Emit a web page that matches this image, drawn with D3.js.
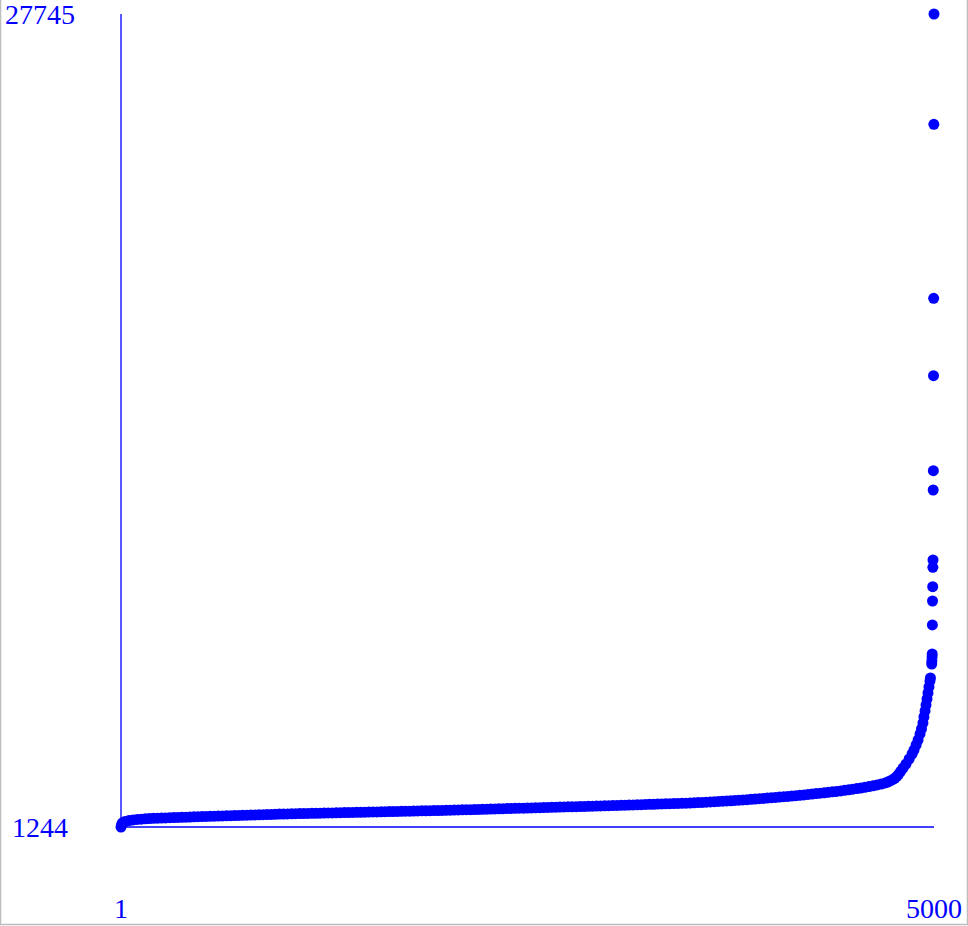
<!DOCTYPE html>
<html>
<head>
<meta charset="utf-8">
<script src="https://cdn.jsdelivr.net/npm/d3@7"></script>
<style>
  html, body { margin: 0; padding: 0; background: #fff; }
  svg { display: block; }
  text { font-family: "Liberation Serif", "DejaVu Serif", serif; fill: #0000ff; }
</style>
</head>
<body>
<svg id="chart" width="968" height="926"></svg>
<script>
// Rank (position in the sorted list) of each sampled point
const ranks = [
  1,5,10,25,50,75,100,125,150,175,200,
  225,250,275,300,325,350,375,400,425,450,475,500,
  525,550,575,600,625,650,675,700,725,750,775,800,825,850,875,900,925,950,975,1000,
  1025,1050,1075,1100,1125,1150,1175,1200,1225,1250,1275,1300,1325,1350,1375,1400,1425,1450,1475,1500,
  1525,1550,1575,1600,1625,1650,1675,1700,1725,1750,1775,1800,1825,1850,1875,1900,1925,1950,1975,2000,
  2025,2050,2075,2100,2125,2150,2175,2200,2225,2250,2275,2300,2325,2350,2375,2400,2425,2450,2475,2500,
  2525,2550,2575,2600,2625,2650,2675,2700,2725,2750,2775,2800,2825,2850,2875,2900,2925,2950,2975,3000,
  3025,3050,3075,3100,3125,3150,3175,3200,3225,3250,3275,3300,3325,3350,3375,3400,3425,3450,3475,3500,
  3525,3550,3575,3600,3625,3650,3675,3700,3725,3750,3775,3800,3825,3850,3875,3900,3925,3950,3975,4000,4025,4050,
  4075,4100,4125,4150,4175,4200,4225,4250,4275,4300,4325,4350,4375,4400,4425,4450,4475,4500,
  4525,4550,4575,4600,4625,4650,4675,4700,4715,4730,4745,4758,4770,4782,4795,
  4810,4828,4847,4865,4877,4890,4902,4914,4923,4932,4938,4945,4951,4957,4963,4969,4975,4978,
  4986,4987,4988,4989,
  4990,4991,4992,4993,4994,4995,4996,4997,4998,4999,5000
];
const values = [
  1244,1330,1380,1420,1455,1475,1490,1500,1510,1518,1527,
  1532,1537,1541,1546,1551,1556,1561,1565,1570,1575,1580,1585,
  1589,1593,1597,1601,1605,1610,1614,1618,1622,1626,1630,1635,1639,1643,1647,1651,1655,1660,1664,1668,
  1671,1674,1677,1680,1683,1686,1689,1692,1695,1698,1701,1704,1707,1710,1713,1716,1719,1722,1725,1728,
  1731,1734,1737,1740,1743,1746,1749,1752,1755,1758,1761,1764,1767,1770,1773,1776,1779,1782,1785,1788,
  1792,1795,1799,1803,1807,1810,1814,1818,1822,1826,1829,1833,1837,1841,1844,1848,1852,1856,1859,1863,
  1867,1871,1874,1878,1882,1886,1889,1893,1897,1901,1904,1908,1912,1916,1919,1923,1927,1931,1934,1938,
  1942,1947,1951,1956,1960,1964,1969,1973,1978,1982,1986,1991,1995,2000,2004,2008,2013,2017,2022,2026,
  2032,2039,2046,2053,2060,2068,2076,2084,2092,2100,2109,2118,2127,2136,2146,2156,2166,2176,2187,2198,2209,2220,
  2231,2242,2254,2266,2278,2291,2304,2318,2332,2346,2360,2375,2390,2405,2421,2438,2456,2475,
  2495,2515,2538,2562,2588,2616,2646,2680,2710,2745,2785,2830,2885,2960,3060,
  3167,3298,3461,3624,3754,3917,4080,4276,4439,4634,4830,5026,5221,5417,5612,5808,6003,6101,
  6557,6655,6785,6883,
  7829,8611,9077,9709,9947,12229,12858,15955,18478,24150,27745
];
const xTickLabels = ["1", "5000"];
const yTickLabels = ["1244", "27745"];

const points = ranks.map((r, i) => ({ rank: r, value: values[i] }));

const svg = d3.select("#chart");
const blue = "#0000ff";

const x = d3.scaleLinear().domain([1, 5000]).range([121, 934]);
const y = d3.scaleLinear().domain([1244, 27745]).range([827, 14]);

// frame border (light gray)
svg.append("path")
  .attr("d", "M0.5,0 V924.5 H967.5 V0")
  .attr("fill", "none")
  .attr("stroke", "#bdbdbd")
  .attr("stroke-width", 1.5);

// axes lines
svg.append("line")
  .attr("x1", x(1)).attr("x2", x(1))
  .attr("y1", y(27745)).attr("y2", y(1244))
  .attr("stroke", blue).attr("stroke-width", 1.3);
svg.append("line")
  .attr("x1", x(1)).attr("x2", x(5000))
  .attr("y1", y(1244)).attr("y2", y(1244))
  .attr("stroke", blue).attr("stroke-width", 1.3);

// dots
svg.append("g")
  .selectAll("circle")
  .data(points)
  .join("circle")
  .attr("cx", d => x(d.rank))
  .attr("cy", d => y(d.value))
  .attr("r", 5.5)
  .attr("fill", blue);

// y labels
svg.append("g")
  .selectAll("text")
  .data(yTickLabels)
  .join("text")
  .attr("x", 40)
  .attr("y", d => y(+d))
  .attr("dy", "0.36em")
  .attr("text-anchor", "middle")
  .attr("font-size", 28)
  .text(d => d);

// x labels
svg.append("g")
  .selectAll("text")
  .data(xTickLabels)
  .join("text")
  .attr("x", d => x(+d))
  .attr("y", 918)
  .attr("text-anchor", "middle")
  .attr("font-size", 28)
  .text(d => d);
</script>
</body>
</html>
